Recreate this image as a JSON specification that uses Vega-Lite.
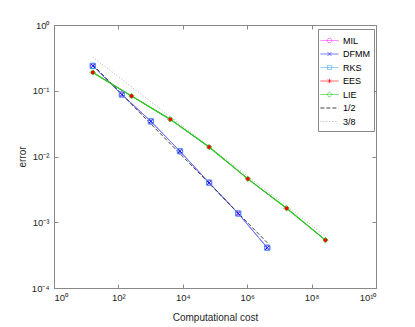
{
  "$schema": "https://vega.github.io/schema/vega-lite/v6.json",
  "width": 322,
  "height": 263,
  "autosize": {"type": "none"},
  "padding": {"left": 54, "top": 25, "right": 39, "bottom": 39},
  "background": "white",
  "config": {
    "view": {"stroke": "#888888", "strokeWidth": 1},
    "font": "Liberation Sans",
    "axis": {
      "grid": false,
      "domainColor": "#888888",
      "tickColor": "#888888",
      "tickSize": -4,
      "labelFont": "Liberation Sans",
      "labelFontSize": 9.5,
      "labelColor": "#262626",
      "titleFont": "Liberation Sans",
      "titleFontSize": 10,
      "titleFontWeight": "normal",
      "titleColor": "#262626"
    }
  },
  "data": {
    "values": [
      {"method": "MIL", "cost": 16, "error": 0.239},
      {"method": "MIL", "cost": 128, "error": 0.0875},
      {"method": "MIL", "cost": 1024, "error": 0.0342},
      {"method": "MIL", "cost": 8192, "error": 0.012},
      {"method": "MIL", "cost": 65536, "error": 0.004},
      {"method": "MIL", "cost": 524288, "error": 0.00136},
      {"method": "MIL", "cost": 4194304, "error": 0.00041},
      {"method": "DFMM", "cost": 16, "error": 0.239},
      {"method": "DFMM", "cost": 128, "error": 0.0875},
      {"method": "DFMM", "cost": 1024, "error": 0.0342},
      {"method": "DFMM", "cost": 8192, "error": 0.012},
      {"method": "DFMM", "cost": 65536, "error": 0.004},
      {"method": "DFMM", "cost": 524288, "error": 0.00136},
      {"method": "DFMM", "cost": 4194304, "error": 0.00041},
      {"method": "RKS", "cost": 16, "error": 0.239},
      {"method": "RKS", "cost": 128, "error": 0.0875},
      {"method": "RKS", "cost": 1024, "error": 0.0342},
      {"method": "RKS", "cost": 8192, "error": 0.012},
      {"method": "RKS", "cost": 65536, "error": 0.004},
      {"method": "RKS", "cost": 524288, "error": 0.00136},
      {"method": "RKS", "cost": 4194304, "error": 0.00041},
      {"method": "EES", "cost": 16, "error": 0.19},
      {"method": "EES", "cost": 256, "error": 0.083},
      {"method": "EES", "cost": 4096, "error": 0.0367},
      {"method": "EES", "cost": 65536, "error": 0.0139},
      {"method": "EES", "cost": 1048576, "error": 0.00457},
      {"method": "EES", "cost": 16777216, "error": 0.00163},
      {"method": "EES", "cost": 268435456, "error": 0.000535},
      {"method": "LIE", "cost": 16, "error": 0.19},
      {"method": "LIE", "cost": 256, "error": 0.083},
      {"method": "LIE", "cost": 4096, "error": 0.0367},
      {"method": "LIE", "cost": 65536, "error": 0.0139},
      {"method": "LIE", "cost": 1048576, "error": 0.00457},
      {"method": "LIE", "cost": 16777216, "error": 0.00163},
      {"method": "LIE", "cost": 268435456, "error": 0.000535},
      {"method": "1/2", "cost": 16, "error": 0.25},
      {"method": "1/2", "cost": 4194304, "error": 0.000488},
      {"method": "3/8", "cost": 16, "error": 0.325},
      {"method": "3/8", "cost": 268435456, "error": 0.00062}
    ]
  },
  "layer": [
    {
      "mark": {"type": "line"},
      "encoding": {
        "x": {
          "field": "cost", "type": "quantitative",
          "scale": {"type": "log", "domain": [1, 10000000000]},
          "axis": {
            "values": [1, 100, 10000, 1000000, 100000000, 10000000000],
            "labelExpr": "'10' + ['⁰','¹','²','³','⁴','⁵','⁶','⁷','⁸','⁹','¹⁰'][round(log(datum.value)/LN10)]",
            "labelPadding": 8,
            "title": "Computational cost",
            "titlePadding": 11
          }
        },
        "y": {
          "field": "error", "type": "quantitative",
          "scale": {"type": "log", "domain": [0.0001, 1]},
          "axis": {
            "values": [0.0001, 0.001, 0.01, 0.1, 1],
            "labelExpr": "'10' + ['⁰','⁻¹','⁻²','⁻³','⁻⁴'][round(-log(datum.value)/LN10)]",
            "labelPadding": 9,
            "title": "error",
            "titlePadding": 4
          }
        },
        "color": {
          "field": "method", "type": "nominal",
          "scale": {
            "domain": ["MIL", "DFMM", "RKS", "EES", "LIE", "1/2", "3/8"],
            "range": ["#ff00ff", "#0000ff", "#3aa0f0", "#ff0000", "#22cc22", "#000000", "#999999"]
          },
          "legend": {
            "title": null,
            "orient": "none",
            "legendX": 264,
            "legendY": 4,
            "padding": 4,
            "fillColor": "white",
            "strokeColor": "#888888",
            "symbolSize": 196,
            "symbolStrokeWidth": 1,
            "rowPadding": 0.5,
            "labelOffset": 6,
            "labelFont": "Liberation Sans",
            "labelFontSize": 9,
            "labelColor": "#000000",
            "encode": {
              "symbols": {
                "update": {
                  "shape": {"signal": "datum.value==='MIL' ? 'M-1.3,0H1.3M0.33,0A0.33,0.33 0 1,1 -0.33,0A0.33,0.33 0 1,1 0.33,0' : datum.value==='DFMM' ? 'M-1.3,0H1.3M-0.28,-0.28L0.28,0.28M-0.28,0.28L0.28,-0.28' : datum.value==='RKS' ? 'M-1.3,0H1.3M-0.3,-0.3H0.3V0.3H-0.3Z' : datum.value==='EES' ? 'M-1.3,0H1.3M0,-0.32V0.32M-0.25,-0.25L0.25,0.25M-0.25,0.25L0.25,-0.25' : datum.value==='LIE' ? 'M-1.3,0H1.3M0,-0.38L0.38,0L0,0.38L-0.38,0Z' : 'M-1.3,0H1.3'"},
                  "fill": {"value": "transparent"},
                  "strokeWidth": {"value": 1.2}
                }
              }
            }
          }
        },
        "strokeDash": {
          "field": "method", "type": "nominal",
          "scale": {
            "domain": ["MIL", "DFMM", "RKS", "EES", "LIE", "1/2", "3/8"],
            "range": [[1, 0], [1, 0], [1, 0], [1, 0], [1, 0], [4, 2], [1, 2]]
          },
          "legend": {
            "title": null,
            "orient": "none",
            "legendX": 264,
            "legendY": 4
          }
        },
        "strokeWidth": {
          "field": "method", "type": "nominal",
          "scale": {
            "domain": ["MIL", "DFMM", "RKS", "EES", "LIE", "1/2", "3/8"],
            "range": [0.5, 0.8, 1.2, 0, 1.2, 1, 1]
          },
          "legend": null
        }
      }
    },
    {
      "transform": [{"filter": {"field": "method", "equal": "LIE"}}],
      "mark": {"type": "line", "stroke": "#22cc22", "strokeWidth": 1.2},
      "encoding": {
        "x": {"field": "cost", "type": "quantitative", "axis": null},
        "y": {"field": "error", "type": "quantitative", "axis": null}
      }
    },
    {
      "transform": [{"filter": {"field": "method", "oneOf": ["MIL", "DFMM", "RKS", "LIE"]}}],
      "mark": {"type": "point", "filled": false, "strokeWidth": 1, "size": 28, "opacity": 1},
      "encoding": {
        "x": {"field": "cost", "type": "quantitative",
          "axis": {"orient": "top", "values": [1, 100, 10000, 1000000, 100000000, 10000000000], "labels": false, "title": null, "domain": false}},
        "y": {"field": "error", "type": "quantitative",
          "axis": {"orient": "right", "values": [0.0001, 0.001, 0.01, 0.1, 1], "labels": false, "title": null, "domain": false}},
        "stroke": {
          "field": "method", "type": "nominal",
          "scale": {"domain": ["MIL", "DFMM", "RKS", "LIE"], "range": ["#ff00ff", "#0000ff", "#3aa0f0", "#22cc22"]},
          "legend": null
        },
        "shape": {
          "field": "method", "type": "nominal",
          "scale": {"domain": ["MIL", "DFMM", "RKS", "LIE"], "range": ["circle", "M-0.8,-0.8L0.8,0.8M-0.8,0.8L0.8,-0.8", "square", "diamond"]},
          "legend": null
        }
      }
    },
    {
      "transform": [{"filter": {"field": "method", "equal": "EES"}}],
      "mark": {"type": "point", "filled": false, "stroke": "#ff0000", "strokeWidth": 1.2, "size": 14, "opacity": 1,
        "shape": "M-1,0H1M0,-1V1M-0.7,-0.7L0.7,0.7M-0.7,0.7L0.7,-0.7"},
      "encoding": {
        "x": {"field": "cost", "type": "quantitative", "axis": null},
        "y": {"field": "error", "type": "quantitative", "axis": null}
      }
    }
  ],
  "resolve": {"axis": {"x": "independent", "y": "independent"}}
}
